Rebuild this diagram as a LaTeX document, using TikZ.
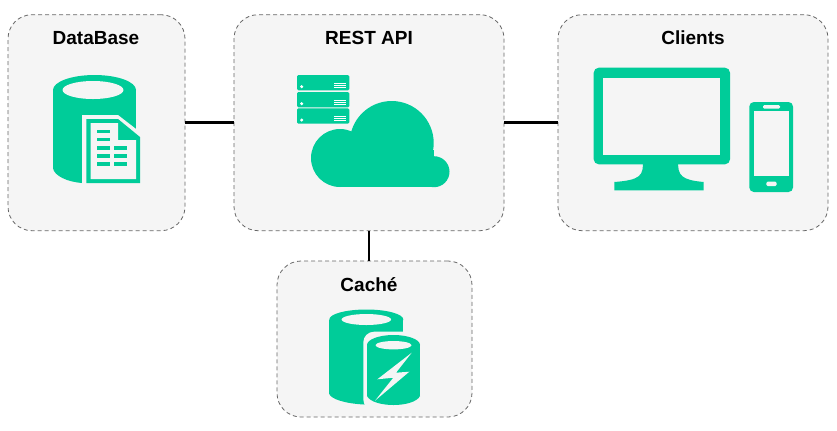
\documentclass[tikz,border=0pt]{standalone}
\usepackage{fontspec}
\setmainfont{Liberation Sans}
\usetikzlibrary{positioning}
\definecolor{mint}{HTML}{00CC99}
\definecolor{panel}{HTML}{F5F5F5}
\definecolor{dashgray}{HTML}{666666}
\tikzset{
    tier/.style={
           draw=dashgray,
           fill=panel,
           line width=0.6pt,
           dash pattern=on 3pt off 2.25pt,
           rounded corners=18pt,
           inner sep=0pt,
           },
}
\tikzset{
    tiername/.style={
           font=\bfseries\fontsize{14.25}{16}\selectfont,
           inner sep=0pt,
           text=black,
           },
}
\tikzset{
    link/.style={
           draw=black,
           line width=2pt,
           },
}
\tikzset{
    icon/.style={
           fill=mint,
           draw=none,
           },
}
\tikzset{
    cutout/.style={
           fill=panel,
           draw=none,
           },
}
\begin{document}
\begin{tikzpicture}[x=0.75pt,y=-0.75pt]
\useasboundingbox (0,0) rectangle (837,430);
\node[tier,minimum width=132.75pt,minimum height=162pt](database) at (96.5,122.7){};
\node[tier,minimum width=202.5pt,minimum height=162pt](restapi) at (369,122.7){};
\node[tier,minimum width=202.5pt,minimum height=162pt](clients) at (693,122.7){};
\node[tier,minimum width=146.25pt,minimum height=117pt](cache) at (374.5,339){};
\path[link] (database.east) -- (restapi.west);
\path[link] (restapi.east) -- (clients.west);
\path[link] (restapi.south) -- (restapi.south |- cache.north);
\node[tiername](databasename) at (96,38){DataBase};
\node[tiername](restapiname) at (369,38){REST API};
\node[tiername](clientsname) at (693,38){Clients};
\node[tiername](cachename) at (369,285){Caché};
\fill[icon] (53,90) arc[start angle=180,end angle=360,x radius=41.5,y radius=15] -- (136,90) arc[start angle=0,end angle=180,x radius=41.5,y radius=15] -- cycle;
\fill[icon] (53,90) -- (136,90) -- (136,168) -- (53,168) -- cycle;
\fill[icon] (53,168) .. controls (54,176) and (68,182) .. (82,183) -- (136,183) -- (136,168) -- cycle;
\fill[cutout] (93,90) ellipse[x radius=30.5,y radius=9];
\fill[cutout] (82,184) -- (82,115) -- (118,115) -- (140,132) -- (140,184) -- cycle;
\fill[icon] (86.3,183) -- (86.3,119) -- (118,119) -- (140,137) -- (140,183) -- cycle;
\fill[cutout] (90.7,179) -- (90.7,123) -- (118,123) -- (118,140) -- (136,140) -- (136,179) -- cycle;
\foreach \y in {129.5,137.5,146,154,162}
  \fill[icon] (97.3,\y) rectangle (110,\y+3.6);
\foreach \y in {146,154,162}
  \fill[icon] (114,\y) rectangle (126.7,\y+3.6);
\foreach \y in {75,92,108.3}{
  \fill[icon,rounded corners=1pt] (297,\y) rectangle (349.3,\y+15.3);
  \fill[white] (301.7,\y+11.7) circle[radius=1.7];
  \foreach \d in {8.3,10.3,12.3}
    \fill[white] (334.3,\y+\d-.4) rectangle (346,\y+\d+.4);
}
\fill[icon] (340,158) circle[radius=29];
\fill[icon] (391.7,143) circle[radius=42];
\fill[icon] (434,171.7) circle[radius=15.5];
\fill[icon] (340,150) rectangle (434,187.2);
\fill[icon,rounded corners=3.75pt] (593.7,67.7) rectangle (730,164.3);
\fill[cutout] (603.3,77.7) rectangle (719.7,155);
\fill[icon] (642.7,160) .. controls (644,176) and (640,180) .. (614.3,182) -- (614.3,190.3) -- (703.7,190.3) -- (703.7,182) .. controls (682,180) and (677,176) .. (678.3,160) -- cycle;
\fill[icon,rounded corners=3.4pt] (749.3,102) rectangle (793,192);
\fill[cutout] (754,111.3) rectangle (789,176);
\fill[cutout,rounded corners=1pt] (763,105) rectangle (780,108.7);
\fill[cutout,rounded corners=1pt] (766.3,181.7) rectangle (776.7,186);
\fill[icon] (329.3,319.5) arc[start angle=180,end angle=360,x radius=37,y radius=10] -- (403.3,319.5) arc[start angle=0,end angle=180,x radius=37,y radius=10] -- cycle;
\fill[icon] (329.3,319.5) -- (403.3,319.5) -- (403.3,394) -- (329.3,394) -- cycle;
\fill[icon] (329.3,394) .. controls (331,399) and (345,403.5) .. (364,404.5) -- (403.3,394) -- cycle;
\fill[cutout] (366.3,319.5) ellipse[x radius=24.7,y radius=5.5];
\fill[cutout,rounded corners=8pt] (363.3,410) -- (363.3,331.7) -- (424,331.7) -- (424,410) -- cycle;
\fill[icon] (367,345) arc[start angle=180,end angle=360,x radius=26.5,y radius=10] -- (420,345) arc[start angle=0,end angle=180,x radius=26.5,y radius=10] -- cycle;
\fill[icon] (367,345) -- (420,345) -- (420,396) -- (367,396) -- cycle;
\fill[icon] (367,396) .. controls (370,402) and (382,405) .. (393.5,405) .. controls (405,405) and (417,402) .. (420,396) -- cycle;
\fill[cutout] (393.5,345.2) ellipse[x radius=18,y radius=4.2];
\fill[cutout] (411.7,352.7) -- (377.3,379.3) -- (393.3,377.7) -- (375,400.7) -- (409.3,371.7) -- (396,372.7) -- cycle;
\end{tikzpicture}
\end{document}
